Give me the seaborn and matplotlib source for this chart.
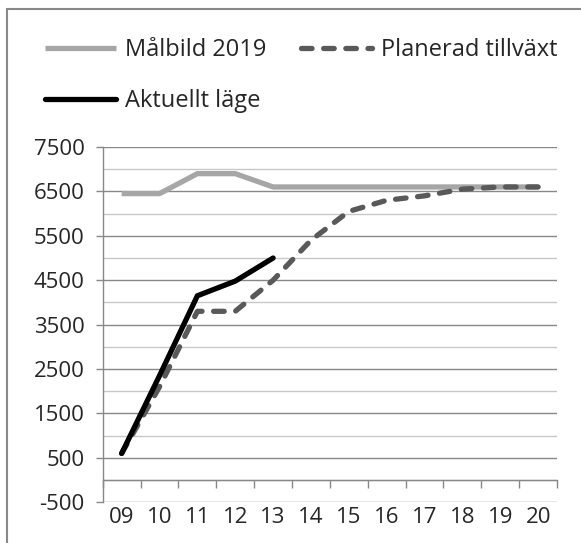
import matplotlib
matplotlib.use("Agg")
import matplotlib.pyplot as plt
from matplotlib.lines import Line2D
import numpy as np
import pandas as pd
import seaborn as sns

years = ["09", "10", "11", "12", "13", "14", "15", "16", "17", "18", "19", "20"]
malbild = [6450, 6450, 6900, 6900, 6600, 6600, 6600, 6600, 6600, 6600, 6600, 6600]
planerad = [600, 2100, 3800, 3800, 4500, 5400, 6050, 6300, 6400, 6550, 6600, 6600]
aktuellt = [600, 2350, 4150, 4480, 5000]

sns.set_style("white")
plt.rcParams['font.family'] = ['Open Sans', 'DejaVu Sans']
plt.rcParams['axes.unicode_minus'] = False

pos = np.arange(len(years))
df_mal = pd.DataFrame({"x": pos, "y": malbild})
df_plan = pd.DataFrame({"x": pos, "y": planerad})
df_akt = pd.DataFrame({"x": pos[:len(aktuellt)], "y": aktuellt})

fig = plt.figure(figsize=(5.81, 5.43), dpi=100)
ax = fig.add_axes([0.1768, 0.075, 0.782, 0.6543])

grid_major = "#888888"
grid_minor = "#c8c8c8"

sns.lineplot(data=df_mal, x="x", y="y", ax=ax, color="#a6a6a6", lw=3.8,
             solid_capstyle="butt", label="Målbild 2019", zorder=3)
sns.lineplot(data=df_plan, x="x", y="y", ax=ax, color="#595959", lw=3.8,
             label="Planerad tillväxt", zorder=4)
sns.lineplot(data=df_akt, x="x", y="y", ax=ax, color="black", lw=3.8,
             solid_capstyle="round", label="Aktuellt läge", zorder=5)
ax.lines[1].set_dashes((2.0, 2.2))
ax.lines[1].set_dash_capstyle("round")

ax.set_xlim(-0.5, len(years) - 0.5)
ax.set_ylim(-500, 7500)
ax.set_xlabel("")
ax.set_ylabel("")

# y axis: labelled gridlines dark, in-between lighter
ax.set_yticks(np.arange(-500, 7501, 1000))
ax.set_yticks(np.arange(0, 7001, 1000), minor=True)
ax.grid(axis="y", which="major", color=grid_major, lw=1.0)
ax.grid(axis="y", which="minor", color=grid_minor, lw=1.0)
ax.grid(axis="x", visible=False)
ax.set_axisbelow(True)
ax.tick_params(axis="y", which="major", left=True, length=5, width=1.0,
               color=grid_major, pad=8, labelsize=16)
ax.tick_params(axis="y", which="minor", left=False, length=0)

# x axis crosses at 0, ticks between categories, labels at the bottom
ax.spines["bottom"].set_position(("data", 0))
ax.set_xticks(pos, labels=years)
ax.set_xticks(np.arange(-0.5, len(years), 1), minor=True)
ax.tick_params(axis="x", which="major", bottom=True, length=0, pad=19.5,
               labelsize=16)
ax.tick_params(axis="x", which="minor", bottom=True, length=5.4, width=1.0,
               color=grid_major)

for s in ["top", "right"]:
    ax.spines[s].set_visible(False)
for s in ["left", "bottom"]:
    ax.spines[s].set_color(grid_major)
    ax.spines[s].set_linewidth(1.0)

ax.get_legend().remove()
h, l = ax.get_legend_handles_labels()
order = [0, 2, 1]
fig.legend([h[i] for i in order], [l[i] for i in order], ncol=2,
           loc="upper left", bbox_to_anchor=(0.0775, 0.930), frameon=False,
           borderpad=0, borderaxespad=0, fontsize=17, handlelength=3.0,
           handletextpad=0.4, columnspacing=1.45, labelspacing=1.15)

# chart area frame (only top and left edges visible in the crop)
fig.add_artist(Line2D([7 / 581, 1], [1 - 9 / 543, 1 - 9 / 543],
                      color=grid_major, lw=1.5))
fig.add_artist(Line2D([7 / 581, 7 / 581], [0, 1 - 9 / 543],
                      color=grid_major, lw=1.5))

fig.savefig("out.png", dpi=100)
